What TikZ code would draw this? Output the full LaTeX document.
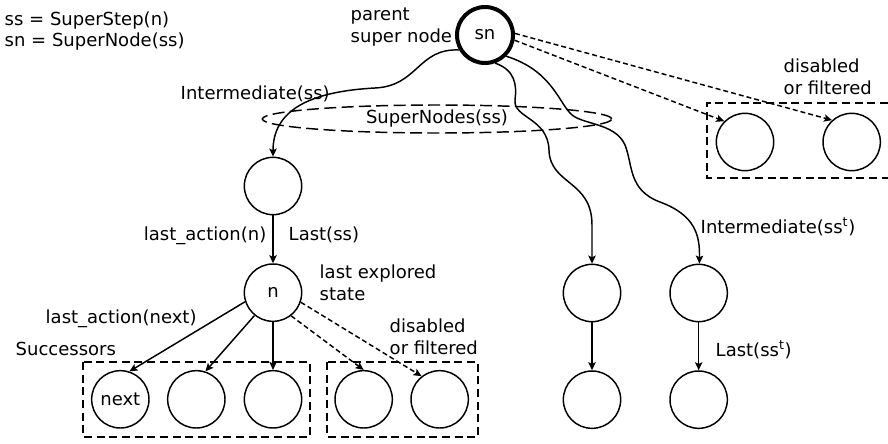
\documentclass[tikz,border=0pt]{standalone}
\usepackage{fontspec}
\setmainfont{DejaVu Sans}
\usepackage{tikz}
\usetikzlibrary{arrows,arrows.meta,automata,shapes,positioning}

\begin{document}
\begin{tikzpicture}[->,>={Stealth[length=6pt,width=5.5pt,inset=1.2pt]},auto,node distance=80pt,x=0.75pt,y=-0.75pt,
        line width=1.1pt,every node/.style={font=\fontsize{13.5}{16.5}\selectfont}]
        \tikzstyle{every state}=[draw=black,text=black,minimum size=43pt,inner sep=0pt,line width=1.1pt]
        \tikzstyle{lbl}=[inner sep=0pt,anchor=base west]
        \tikzstyle{lbl2}=[inner sep=0pt,anchor=north west,align=left]
        \tikzstyle{dsh}=[dash pattern=on 3.75pt off 2.25pt]
        \tikzstyle{box}=[-,dash pattern=on 6pt off 3.5pt]
        \useasboundingbox (0,0) rectangle (888,443);

        % super node and its children
        \node[state,line width=3pt,minimum size=42pt](sn) at (485,35){sn};
        \node[state](I) at (273,186){};
        \node[state](n)[below of=I]{n};
        \node[state](s3)[below of=n]{};
        \node[state,node distance=57.5pt](s2)[left of=s3]{};
        \node[state,node distance=57pt](s1)[left of=s2]{next};
        \node[state,node distance=68pt](f1)[right of=s3]{};
        \node[state,node distance=57pt](f2)[right of=f1]{};
        \node[state](m1) at (592,293){};
        \node[state](m2)[below of=m1]{};
        \node[state](t1)[right of=m1]{};
        \node[state](t2)[below of=t1]{};
        \node[state](d1) at (745,142){};
        \node[state](d2)[right of=d1]{};
        \node[draw,ellipse,dash pattern=on 9pt off 4pt,minimum width=262pt,minimum height=21pt,inner sep=0pt](SN) at (437,119){SuperNodes(ss)};

        % dashed groups
        \draw[box] (83,362) rectangle (310,437);
        \draw[box] (327,362) rectangle (478,437);
        \draw[box] (888,103) -- (707,103) -- (707,178) -- (888,178);

        % curved edges from the super node
        \draw (sn.210) .. controls (418,48) and (418,86) .. (375,88) .. controls (320,91) and (273,105) .. (I);
        \draw (sn.-70) .. controls (515,70) and (517,85) .. (515,100) .. controls (513,118) and (548,118) .. (549,150)
              .. controls (550,185) and (592,180) .. (592,225) -- (m1);
        \draw (sn.-45) .. controls (550,70) and (558,100) .. (570,113) .. controls (580,125) and (615,122) .. (625,145)
              .. controls (633,165) and (628,190) .. (660,202) .. controls (695,215) and (700,235) .. (t1);
        \path (sn.3) edge[dsh] (d2.132);
        \path (sn.-10) edge[dsh] (d1.135);

        \path (I) edge (n);
        \path (m1) edge (m2);
        \path (t1) edge (t2);
        \path (n.198) edge (s1.72);
        \path (n.231) edge (s2.72);
        \path (n) edge (s3);
        \path (n.308) edge[dsh] (f1.north);
        \path (n.341) edge[dsh] (f2.128);

        % labels
        \node[lbl](def1) at (4,25){ss = SuperStep(n)};
        \node[lbl](def2) at (4,46){sn = SuperNode(ss)};
        \node[lbl2](par) at (350,7){parent\\super node};
        \node[lbl2](dis1) at (783,58){disabled\\or filtered};
        \node[lbl](im) at (180,99){Intermediate(ss)};
        \node[lbl,anchor=base east](la) at (267,240){last\_action(n)};
        \node[lbl](ls) at (288,240){Last(ss)};
        \node[lbl2](le) at (319,264){last explored\\state};
        \node[lbl](lan) at (45,323){last\_action(next)};
        \node[lbl](suc) at (15,355){Successors};
        \node[lbl2](dis2) at (389,318){disabled\\or filtered};
        \node[lbl](it) at (700,233){Intermediate(ss\textsuperscript{t})};
        \node[lbl](lt) at (715,356){Last(ss\textsuperscript{t})};
\end{tikzpicture}
\end{document}
